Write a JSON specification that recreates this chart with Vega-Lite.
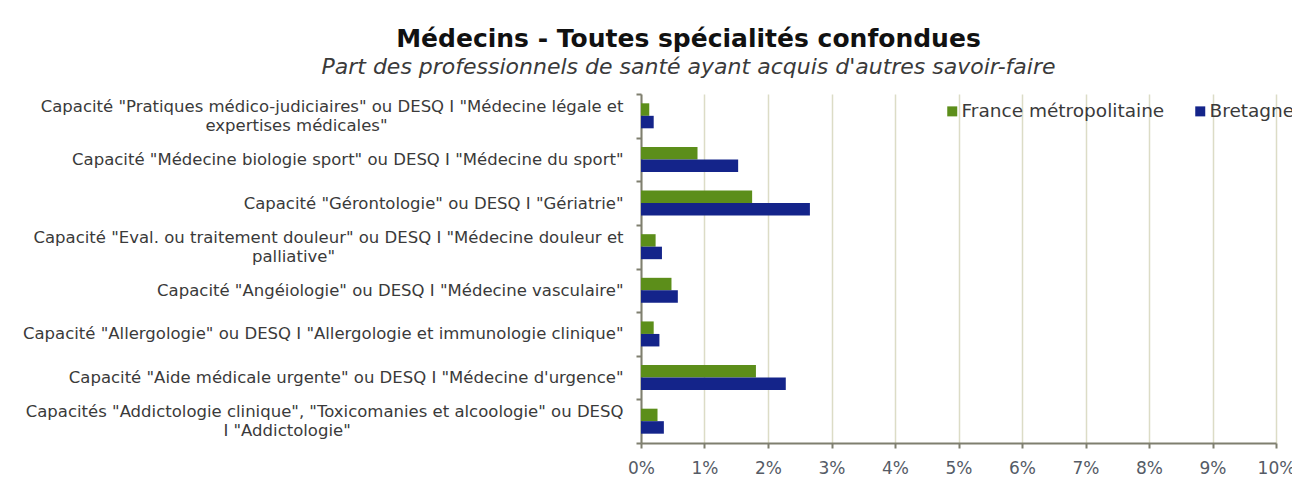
{
  "$schema": "https://vega.github.io/schema/vega-lite/v6.json",
  "autosize": "none",
  "width": 635,
  "height": 349,
  "padding": {"left": 641, "top": 94, "right": 16, "bottom": 47},
  "background": "white",
  "title": {
    "text": "Médecins - Toutes spécialités confondues",
    "subtitle": "Part des professionnels de santé ayant acquis d'autres savoir-faire",
    "anchor": "middle",
    "frame": "group",
    "dx": -270,
    "offset": 8,
    "font": "DejaVu Sans",
    "fontSize": 25,
    "fontWeight": "bold",
    "color": "#111111",
    "subtitleFont": "DejaVu Sans",
    "subtitleFontSize": 22,
    "subtitleFontStyle": "italic",
    "subtitleColor": "#3a3a3a",
    "subtitlePadding": 5
  },
  "data": {
    "values": [
      {"capacite": "Capacité \"Pratiques médico-judiciaires\" ou DESQ I \"Médecine légale et~expertises médicales\"", "zone": "France métropolitaine", "part": 0.0013},
      {"capacite": "Capacité \"Pratiques médico-judiciaires\" ou DESQ I \"Médecine légale et~expertises médicales\"", "zone": "Bretagne", "part": 0.0020},
      {"capacite": "Capacité \"Médecine biologie sport\" ou DESQ I \"Médecine du sport\"", "zone": "France métropolitaine", "part": 0.0089},
      {"capacite": "Capacité \"Médecine biologie sport\" ou DESQ I \"Médecine du sport\"", "zone": "Bretagne", "part": 0.0153},
      {"capacite": "Capacité \"Gérontologie\" ou DESQ I \"Gériatrie\"", "zone": "France métropolitaine", "part": 0.0175},
      {"capacite": "Capacité \"Gérontologie\" ou DESQ I \"Gériatrie\"", "zone": "Bretagne", "part": 0.0266},
      {"capacite": "Capacité \"Eval. ou traitement douleur\" ou DESQ I \"Médecine douleur et~palliative\"", "zone": "France métropolitaine", "part": 0.0023},
      {"capacite": "Capacité \"Eval. ou traitement douleur\" ou DESQ I \"Médecine douleur et~palliative\"", "zone": "Bretagne", "part": 0.0033},
      {"capacite": "Capacité \"Angéiologie\" ou DESQ I \"Médecine vasculaire\"", "zone": "France métropolitaine", "part": 0.0048},
      {"capacite": "Capacité \"Angéiologie\" ou DESQ I \"Médecine vasculaire\"", "zone": "Bretagne", "part": 0.0058},
      {"capacite": "Capacité \"Allergologie\" ou DESQ I \"Allergologie et immunologie clinique\"", "zone": "France métropolitaine", "part": 0.0020},
      {"capacite": "Capacité \"Allergologie\" ou DESQ I \"Allergologie et immunologie clinique\"", "zone": "Bretagne", "part": 0.0029},
      {"capacite": "Capacité \"Aide médicale urgente\" ou DESQ I \"Médecine d'urgence\"", "zone": "France métropolitaine", "part": 0.0181},
      {"capacite": "Capacité \"Aide médicale urgente\" ou DESQ I \"Médecine d'urgence\"", "zone": "Bretagne", "part": 0.0228},
      {"capacite": "Capacités \"Addictologie clinique\", \"Toxicomanies et alcoologie\" ou DESQ~I \"Addictologie\"", "zone": "France métropolitaine", "part": 0.0026},
      {"capacite": "Capacités \"Addictologie clinique\", \"Toxicomanies et alcoologie\" ou DESQ~I \"Addictologie\"", "zone": "Bretagne", "part": 0.0036}
    ]
  },
  "mark": {"type": "bar"},
  "encoding": {
    "y": {
      "field": "capacite",
      "type": "nominal",
      "sort": null,
      "scale": {"paddingInner": 0, "paddingOuter": 0},
      "axis": {
        "title": null,
        "tickBand": "extent",
        "domainColor": "#7f7f6f",
        "domainWidth": 2,
        "tickColor": "#7f7f6f",
        "tickWidth": 2,
        "tickSize": 5,
        "labelPadding": 13,
        "labelFont": "DejaVu Sans",
        "labelFontSize": 16.5,
        "labelColor": "#3a3a3a",
        "labelLimit": 800,
        "labelLineHeight": 9.5,
        "labelOffset": -9.5,
        "labelAlign": "right",
        "labelBaseline": "middle",
        "labelExpr": "indexof(datum.label,'~')<0 ? ['\u200b', datum.label] : [split(datum.label,'~')[0], '\u200b', pad(split(datum.label,'~')[1], length(split(datum.label,'~')[1]) + floor(0.95*(length(split(datum.label,'~')[0])-length(split(datum.label,'~')[1]))), '\u00a0') + '\u200b']"
      }
    },
    "x": {
      "field": "part",
      "type": "quantitative",
      "scale": {"domain": [0, 0.1], "nice": false},
      "axis": {
        "title": null,
        "format": ".0%",
        "values": [0, 0.01, 0.02, 0.03, 0.04, 0.05, 0.06, 0.07, 0.08, 0.09, 0.1],
        "grid": true,
        "gridColor": "#dcdcc6",
        "gridWidth": 1.5,
        "domainColor": "#7f7f6f",
        "domainWidth": 2,
        "tickColor": "#7f7f6f",
        "tickWidth": 2,
        "tickSize": 5,
        "labelPadding": 12,
        "labelFont": "DejaVu Sans",
        "labelFontSize": 17,
        "labelColor": "#555b66",
        "labelFlush": false
      }
    },
    "yOffset": {
      "field": "zone",
      "type": "nominal",
      "sort": ["France métropolitaine", "Bretagne"],
      "scale": {"paddingInner": 0, "paddingOuter": 0.745}
    },
    "color": {
      "field": "zone",
      "type": "nominal",
      "scale": {"domain": ["France métropolitaine", "Bretagne"], "range": ["#5c8e1a", "#14248a"]},
      "legend": {
        "title": null,
        "orient": "none",
        "direction": "horizontal",
        "legendX": 302,
        "legendY": 8,
        "symbolType": "square",
        "symbolSize": 100,
        "symbolStrokeWidth": 0,
        "labelFont": "DejaVu Sans",
        "labelFontSize": 18.5,
        "labelColor": "#3a3a3a",
        "labelOffset": 0,
        "columnPadding": 26,
        "labelLimit": 400
      }
    }
  },
  "config": {"view": {"stroke": null}}
}
